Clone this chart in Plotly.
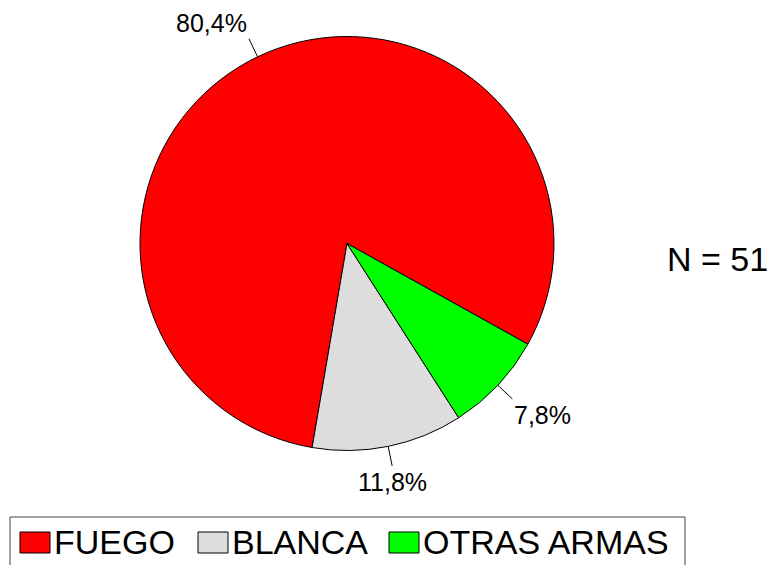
import math
import plotly.graph_objects as go

# ---- data ----
categories = ["FUEGO", "BLANCA", "OTRAS ARMAS"]
counts = [41, 6, 4]
colors = ["#FF0000", "#DDDDDD", "#00FF00"]
n_label = "N = 51"

# ---- layout constants (pixels) ----
W, H = 774, 565
CX, CY, R = 347, 243.5, 207
ROTATION = 189.7          # plotly rotation (deg clockwise from 12 o'clock)
LEADER = 20
FONT = "Arial, 'Liberation Sans', sans-serif"
LEG_BOX = (10, 517, 685)  # left, top, right
LEG_SQ_X = [20, 198, 389]
LEG_SQ_W, LEG_SQ_Y0, LEG_SQ_Y1 = 30, 532, 553


def px(x):
    return x / W


def py(y):
    return 1 - y / H


total = sum(counts)

fig = go.Figure(go.Pie(
    values=counts, labels=categories, sort=False,
    direction="counterclockwise", rotation=ROTATION,
    marker=dict(colors=colors, line=dict(color="black", width=1)),
    textinfo="none", hoverinfo="label+percent", showlegend=False,
    domain=dict(x=[px(CX - R), px(CX + R)], y=[py(CY + R), py(CY - R)]),
))

shapes = []
annotations = []

# percentage labels with leader lines
thetas = [v / total * 360 for v in counts]
a = ROTATION + thetas[0]
for v, th in zip(counts, thetas):
    mid = math.radians(a - th / 2)
    a -= th
    s, c = math.sin(mid), math.cos(mid)
    x0, y0 = CX + R * s, CY - R * c
    x1, y1 = CX + (R + LEADER) * s, CY - (R + LEADER) * c
    shapes.append(dict(type="line", xref="paper", yref="paper",
                       x0=px(x0), y0=py(y0), x1=px(x1), y1=py(y1),
                       line=dict(color="black", width=1)))
    xanchor = "left" if s > 0.35 else ("right" if s < -0.35 else "center")
    yanchor = "bottom" if c > 0 else "top"
    pct = f"{v / total * 100:.1f}".replace(".", ",") + "%"
    annotations.append(dict(text=pct, x=px(x1), y=py(y1), xref="paper", yref="paper",
                            xanchor=xanchor, yanchor=yanchor, showarrow=False,
                            font=dict(size=25, color="black", family=FONT)))

# N label
annotations.append(dict(text=n_label, x=px(717), y=py(259), xref="paper", yref="paper",
                        xanchor="center", yanchor="middle", showarrow=False,
                        font=dict(size=34, color="black", family=FONT)))

# custom legend
shapes.append(dict(type="rect", xref="paper", yref="paper",
                   x0=px(LEG_BOX[0]), x1=px(LEG_BOX[2]), y0=py(H + 10), y1=py(LEG_BOX[1]),
                   line=dict(color="#404040", width=1), fillcolor="rgba(0,0,0,0)"))
for cat, col, sx in zip(categories, colors, LEG_SQ_X):
    shapes.append(dict(type="rect", xref="paper", yref="paper",
                       x0=px(sx), x1=px(sx + LEG_SQ_W), y0=py(LEG_SQ_Y1), y1=py(LEG_SQ_Y0),
                       line=dict(color="black", width=1), fillcolor=col))
    annotations.append(dict(text=cat, x=px(sx + LEG_SQ_W + 2), y=py(541.5),
                            xref="paper", yref="paper", xanchor="left", yanchor="middle",
                            showarrow=False, font=dict(size=34, color="black", family=FONT)))

fig.update_layout(
    width=W, height=H, autosize=False,
    margin=dict(l=0, r=0, t=0, b=0),
    paper_bgcolor="white", plot_bgcolor="white",
    shapes=shapes, annotations=annotations,
    showlegend=False,
)

fig.write_html(
    "out.html",
    config={"displayModeBar": False},
    post_script="document.body.style.margin='0';document.body.style.overflow='hidden';",
)
